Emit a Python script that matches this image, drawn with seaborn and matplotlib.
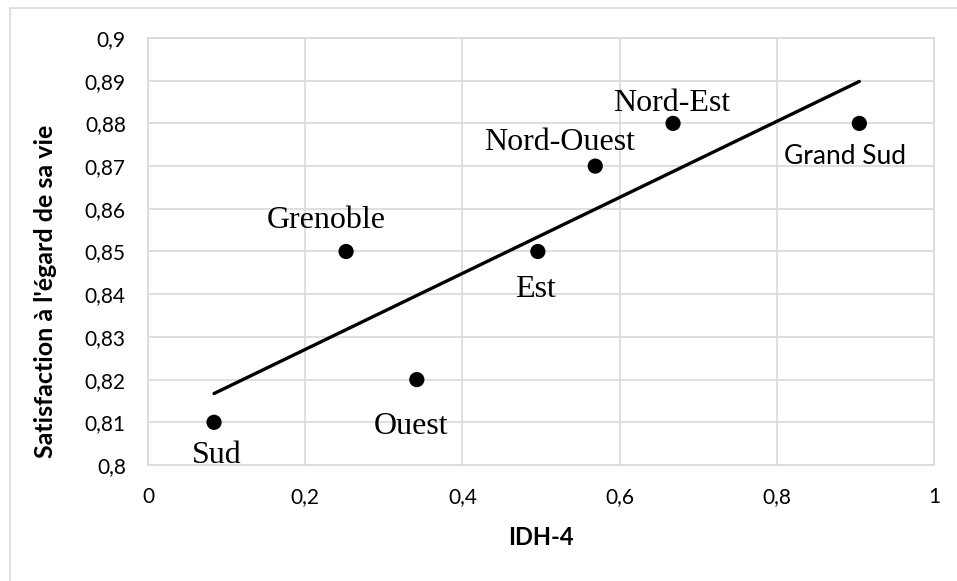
import numpy as np
import pandas as pd
import matplotlib
matplotlib.use("Agg")
import matplotlib.pyplot as plt
import seaborn as sns
from matplotlib.ticker import FuncFormatter, MultipleLocator
from matplotlib.patches import Rectangle

# ─────────────────────────────────────────────
#  DATA
# ─────────────────────────────────────────────
regions = ["Sud", "Grenoble", "Ouest", "Est", "Nord-Ouest", "Nord-Est", "Grand Sud"]
idh4 = [0.084, 0.252, 0.342, 0.496, 0.569, 0.668, 0.905]
satisfaction = [0.81, 0.85, 0.82, 0.85, 0.87, 0.88, 0.88]

# label offsets in points (dx, dy) from each point, text baseline
label_offsets = {
    "Sud": (2, -29.5),
    "Grenoble": (-14, 17),
    "Ouest": (-4, -39),
    "Est": (-2, -33),
    "Nord-Ouest": (-25.5, 11.5),
    "Nord-Est": (-1, 9),
    "Grand Sud": (-10, -29),
}

df = pd.DataFrame({"region": regions, "idh4": idh4, "satisfaction": satisfaction})

# ─────────────────────────────────────────────
#  PLOT
# ─────────────────────────────────────────────
sns.set_style("white")
plt.rcParams["font.family"] = ["Lato", "DejaVu Sans"]

fig = plt.figure(figsize=(9.57, 5.81), dpi=100)
ax = fig.add_axes([148 / 957, 1 - 465 / 581, (934 - 148) / 957, (465 - 38) / 581])

# outer chart border (cut at right / bottom like the original)
fig.patches.append(Rectangle((10 / 957, -0.1), 1.2, 1 - 8 / 581 + 0.1,
                             transform=fig.transFigure, fill=False,
                             edgecolor="#d9d9d9", linewidth=1.2, zorder=0))

sns.regplot(data=df, x="idh4", y="satisfaction", ax=ax, ci=None,
            scatter_kws=dict(s=120, color="black", alpha=1, edgecolors="none", zorder=3),
            line_kws=dict(color="black", linewidth=2.4, zorder=2))

for name, x, y in zip(regions, idh4, satisfaction):
    dx, dy = label_offsets[name]
    if name == "Grand Sud":
        fam, size = ["Lato", "DejaVu Sans"], 19
    else:
        fam, size = ["Liberation Serif", "DejaVu Serif"], 23
    ax.annotate(name, (x, y), xytext=(dx, dy), textcoords="offset points",
                ha="center", va="baseline", fontsize=size, family=fam,
                color="black")

ax.set_xlim(0, 1)
ax.set_ylim(0.8, 0.9)
ax.xaxis.set_major_locator(MultipleLocator(0.2))
ax.yaxis.set_major_locator(MultipleLocator(0.01))
comma = FuncFormatter(lambda v, _: f"{v:.2f}".rstrip("0").rstrip(".").replace(".", ","))
ax.xaxis.set_major_formatter(comma)
ax.yaxis.set_major_formatter(comma)

ax.grid(True, color="#d9d9d9", linewidth=1.2)
ax.set_axisbelow(True)
for sp in ax.spines.values():
    sp.set_color("#d9d9d9")
    sp.set_linewidth(1.2)

ax.tick_params(axis="both", length=0, labelsize=15, colors="black")
ax.tick_params(axis="x", pad=16)
ax.tick_params(axis="y", pad=16)

ax.set_xlabel("IDH-4", fontsize=17, fontweight="bold", color="black", va="center")
ax.set_ylabel("Satisfaction à l'égard de sa vie", fontsize=18, fontweight="bold",
              color="black", va="center")
ax.xaxis.set_label_coords(0.5, -0.169)
ax.yaxis.set_label_coords(-0.13, 0.4075)

plt.savefig("out.png", dpi=100)
